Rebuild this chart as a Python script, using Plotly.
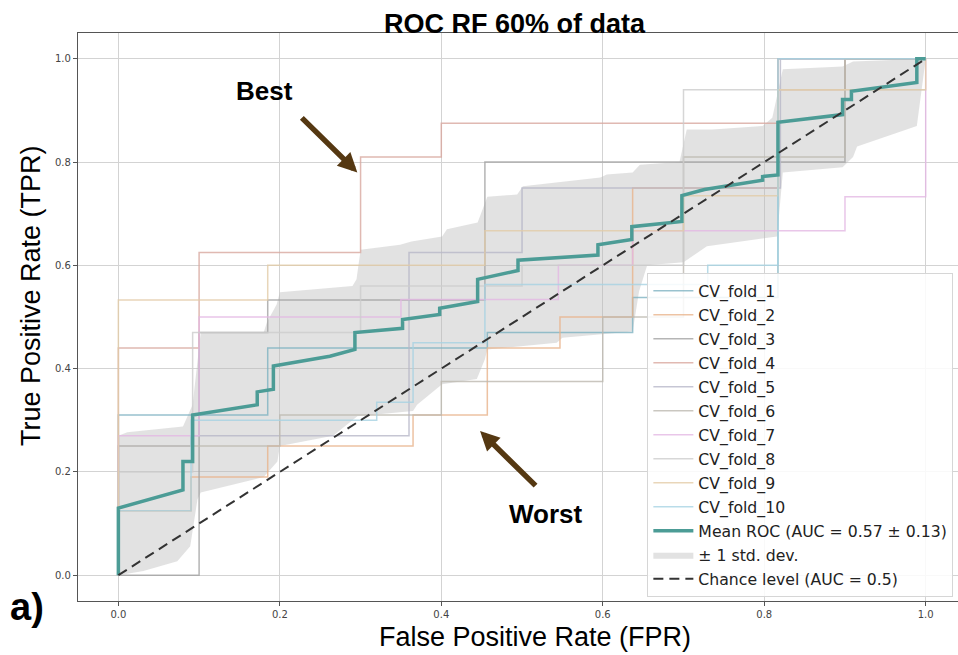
import plotly.graph_objects as go

# ---------------- data ----------------
fold_names = ["CV_fold_1", "CV_fold_2", "CV_fold_3", "CV_fold_4", "CV_fold_5",
              "CV_fold_6", "CV_fold_7", "CV_fold_8", "CV_fold_9", "CV_fold_10"]

fold1_fpr = [0, 0, 0.185, 0.185, 0.457, 0.457, 0.637, 0.637, 0.817, 0.817, 1]
fold1_tpr = [0, 0.31, 0.31, 0.44, 0.44, 0.47, 0.47, 0.538, 0.538, 1, 1]

fold2_fpr = [0, 0, 0.09, 0.09, 0.185, 0.185, 0.365, 0.365, 0.457, 0.457, 0.547, 0.547,
             0.637, 0.637, 0.817, 0.817, 0.9, 0.9, 1]
fold2_tpr = [0, 0.125, 0.125, 0.19, 0.19, 0.25, 0.25, 0.31, 0.31, 0.44, 0.44, 0.5,
             0.5, 0.75, 0.75, 0.94, 0.94, 1, 1]

fold3_fpr = [0, 0.1, 0.1, 0.185, 0.185, 0.454, 0.454, 0.9, 0.9, 1]
fold3_tpr = [0, 0, 0.47, 0.47, 0.533, 0.533, 0.8, 0.8, 1, 1]

fold4_fpr = [0, 0, 0.1, 0.1, 0.3, 0.3, 0.4, 0.4, 0.817, 0.817, 1]
fold4_tpr = [0, 0.44, 0.44, 0.625, 0.625, 0.81, 0.81, 0.875, 0.875, 1, 1]

fold5_fpr = [0, 0, 0.09, 0.09, 0.36, 0.36, 0.5, 0.5, 0.82, 0.82, 1]
fold5_tpr = [0, 0.25, 0.25, 0.27, 0.27, 0.625, 0.625, 0.75, 0.75, 1, 1]

fold6_fpr = [0, 0, 0.2, 0.2, 0.4, 0.4, 0.6, 0.6, 0.7, 0.7, 0.9, 0.9, 1]
fold6_tpr = [0, 0.25, 0.25, 0.31, 0.31, 0.375, 0.375, 0.5, 0.5, 0.81, 0.81, 1, 1]

fold7_fpr = [0, 0, 0.1, 0.1, 0.35, 0.35, 0.545, 0.545, 0.637, 0.637, 0.9, 0.9, 1, 1]
fold7_tpr = [0, 0.27, 0.27, 0.5, 0.5, 0.534, 0.534, 0.6, 0.6, 0.667, 0.667, 0.733, 0.733, 1]

fold8_fpr = [0, 0, 0.092, 0.092, 0.3, 0.3, 0.5, 0.5, 0.7, 0.7, 1]
fold8_tpr = [0, 0.2, 0.2, 0.47, 0.47, 0.56, 0.56, 0.6, 0.6, 0.94, 0.94]

fold9_fpr = [0, 0, 0.185, 0.185, 0.454, 0.454, 0.7, 0.7, 0.817, 0.817, 1, 1]
fold9_tpr = [0, 0.533, 0.533, 0.6, 0.6, 0.667, 0.667, 0.735, 0.735, 0.94, 0.94, 1]

fold10_fpr = [0, 0, 0.09, 0.09, 0.32, 0.32, 0.365, 0.365, 0.454, 0.454, 0.73, 0.73, 0.817, 0.817, 1]
fold10_tpr = [0, 0.125, 0.125, 0.3, 0.3, 0.335, 0.335, 0.45, 0.45, 0.563, 0.563, 0.6, 0.6, 1, 1]

folds_fpr = [fold1_fpr, fold2_fpr, fold3_fpr, fold4_fpr, fold5_fpr,
             fold6_fpr, fold7_fpr, fold8_fpr, fold9_fpr, fold10_fpr]
folds_tpr = [fold1_tpr, fold2_tpr, fold3_tpr, fold4_tpr, fold5_tpr,
             fold6_tpr, fold7_tpr, fold8_tpr, fold9_tpr, fold10_tpr]

mean_fpr = [0, 0, 0.08, 0.08, 0.092, 0.092, 0.172, 0.172, 0.192, 0.192, 0.262, 0.293, 0.293,
            0.33, 0.352, 0.352, 0.398, 0.398, 0.445, 0.445, 0.495, 0.495, 0.545, 0.594, 0.594,
            0.636, 0.636, 0.698, 0.698, 0.726, 0.798, 0.798, 0.817, 0.817, 0.897, 0.897,
            0.908, 0.908, 0.989, 0.989, 1]
mean_tpr = [0, 0.13, 0.165, 0.22, 0.22, 0.31, 0.33, 0.355, 0.36, 0.405, 0.424, 0.437, 0.47,
            0.475, 0.478, 0.495, 0.505, 0.517, 0.53, 0.573, 0.59, 0.61, 0.615, 0.62, 0.64,
            0.65, 0.675, 0.685, 0.735, 0.747, 0.765, 0.772, 0.775, 0.877, 0.892, 0.921,
            0.921, 0.937, 0.954, 1.0, 1.0]

upper_fpr = [0, 0.011, 0.08, 0.092, 0.102, 0.18, 0.184, 0.196, 0.2, 0.29, 0.295, 0.3, 0.349,
             0.363, 0.401, 0.407, 0.445, 0.457, 0.494, 0.501, 0.597, 0.605, 0.637, 0.646,
             0.695, 0.704, 0.736, 0.798, 0.81, 0.823, 0.897, 0.91, 1]
upper_tpr = [0.27, 0.277, 0.288, 0.33, 0.47, 0.47, 0.49, 0.524, 0.548, 0.56, 0.573, 0.63, 0.64,
             0.646, 0.656, 0.67, 0.683, 0.733, 0.737, 0.753, 0.77, 0.776, 0.78, 0.795,
             0.8, 0.863, 0.863, 0.87, 0.886, 0.98, 0.985, 0.995, 1]

lower_fpr = [0, 0.031, 0.073, 0.089, 0.098, 0.102, 0.18, 0.197, 0.2, 0.266, 0.296, 0.349,
             0.365, 0.37, 0.401, 0.444, 0.454, 0.457, 0.543, 0.55, 0.597, 0.637, 0.645,
             0.655, 0.7, 0.729, 0.816, 0.823, 0.897, 0.91, 0.915, 0.989, 1]
lower_tpr = [0, 0.008, 0.027, 0.056, 0.147, 0.16, 0.19, 0.22, 0.25, 0.27, 0.308, 0.315,
             0.318, 0.33, 0.37, 0.38, 0.418, 0.437, 0.45, 0.46, 0.466, 0.472, 0.55,
             0.6, 0.606, 0.637, 0.656, 0.78, 0.79, 0.81, 0.83, 0.87, 1]

chance_x = [0, 1]
chance_y = [0, 1]

tick_vals = [0.0, 0.2, 0.4, 0.6, 0.8, 1.0]
tick_text = ["0.0", "0.2", "0.4", "0.6", "0.8", "1.0"]

mean_label = "Mean ROC (AUC = 0.57 ± 0.13)"
std_label = "± 1 std. dev."
chance_label = "Chance level (AUC = 0.5)"

# ---------------- styles ----------------
fold_colors = ["#7fb3c2", "#e9b48c", "#a3a3a3", "#d9a89f", "#b8b8c9",
               "#bdb9b0", "#e4b8e4", "#cdcdcd", "#e3cca8", "#a7d3e3"]

fig = go.Figure()

# std band (drawn first, underneath)
fig.add_trace(go.Scatter(x=lower_fpr, y=lower_tpr, mode="lines", line=dict(width=0, color="rgba(0,0,0,0)"),
                         showlegend=False, legendgroup="std", hoverinfo="skip"))
fig.add_trace(go.Scatter(x=upper_fpr, y=upper_tpr, mode="lines", line=dict(width=0, color="rgba(0,0,0,0)"),
                         fill="tonexty", fillcolor="rgba(185,185,185,0.42)",
                         name=std_label, legendgroup="std", legendrank=12))

for i in range(10):
    fig.add_trace(go.Scatter(x=folds_fpr[i], y=folds_tpr[i], mode="lines",
                             line=dict(color=fold_colors[i], width=1.5), opacity=0.8,
                             name=fold_names[i], legendgroup="f%d" % i, legendrank=i + 1))

fig.add_trace(go.Scatter(x=mean_fpr, y=mean_tpr, mode="lines",
                         line=dict(color="#4c9c96", width=3.5),
                         name=mean_label, legendgroup="mean", legendrank=11))

fig.add_trace(go.Scatter(x=chance_x, y=chance_y, mode="lines",
                         line=dict(color="#333333", width=2, dash="10px,6px"),
                         name=chance_label, legendgroup="chance", legendrank=13))

axis_common = dict(
    tickvals=tick_vals, ticktext=tick_text,
    showgrid=True, gridcolor="#d3d3d3", gridwidth=1,
    zeroline=False, showline=True, linecolor="#555555", linewidth=1.2,
    ticks="outside", ticklen=4, tickcolor="#555555",
    tickfont=dict(family="DejaVu Sans", size=10, color="#444444"),
)

fig.update_xaxes(range=[-0.05, 1.04], mirror=True, automargin=False, **axis_common)
fig.update_yaxes(range=[-0.05, 1.05], mirror=False, automargin=False, **axis_common)

annotations = [
    dict(text="<b>ROC RF 60% of data</b>", xref="paper", yref="paper", x=0.4966, y=1.016,
         xanchor="center", yanchor="middle", showarrow=False,
         font=dict(family="Liberation Sans", size=27, color="black")),
    dict(text="False Positive Rate (FPR)", xref="paper", yref="paper", x=0.519, y=-0.064,
         xanchor="center", yanchor="middle", showarrow=False,
         font=dict(family="Liberation Sans", size=27, color="black")),
    dict(text="True Positive Rate (TPR)", xref="paper", yref="paper", x=-0.0534, y=0.537,
         xanchor="center", yanchor="middle", showarrow=False, textangle=-90,
         font=dict(family="Liberation Sans", size=27, color="black")),
    dict(text="<b>a)</b>", xref="paper", yref="paper", x=-0.058, y=-0.01,
         xanchor="center", yanchor="middle", showarrow=False,
         font=dict(family="Liberation Sans", size=38, color="black")),
    dict(text="<b>Best</b>", xref="x", yref="y", x=0.181, y=0.937,
         xanchor="center", yanchor="middle", showarrow=False,
         font=dict(family="Liberation Sans", size=26, color="black")),
    dict(text="<b>Worst</b>", xref="x", yref="y", x=0.53, y=0.118,
         xanchor="center", yanchor="middle", showarrow=False,
         font=dict(family="Liberation Sans", size=26, color="black")),
    dict(text="", xref="x", yref="y", x=0.296, y=0.78, ax=-57, ay=-56,
         showarrow=True, arrowhead=2, arrowsize=0.7, arrowwidth=5.5, arrowcolor="#553812"),
    dict(text="", xref="x", yref="y", x=0.448, y=0.279, ax=57, ay=56,
         showarrow=True, arrowhead=2, arrowsize=0.7, arrowwidth=5.5, arrowcolor="#553812"),
]

fig.update_layout(
    width=958, height=655,
    margin=dict(l=78, r=0, t=33, b=54, autoexpand=False),
    plot_bgcolor="white", paper_bgcolor="white",
    annotations=annotations,
    legend=dict(x=0.647, y=0.007, xanchor="left", yanchor="bottom",
                bgcolor="rgba(255,255,255,0.85)", bordercolor="#d6d6d6", borderwidth=1,
                font=dict(family="DejaVu Sans", size=15.7, color="#222222"),
                traceorder="grouped", tracegroupgap=0.6, itemwidth=40),
    showlegend=True,
)

fig.write_html("out.html")
